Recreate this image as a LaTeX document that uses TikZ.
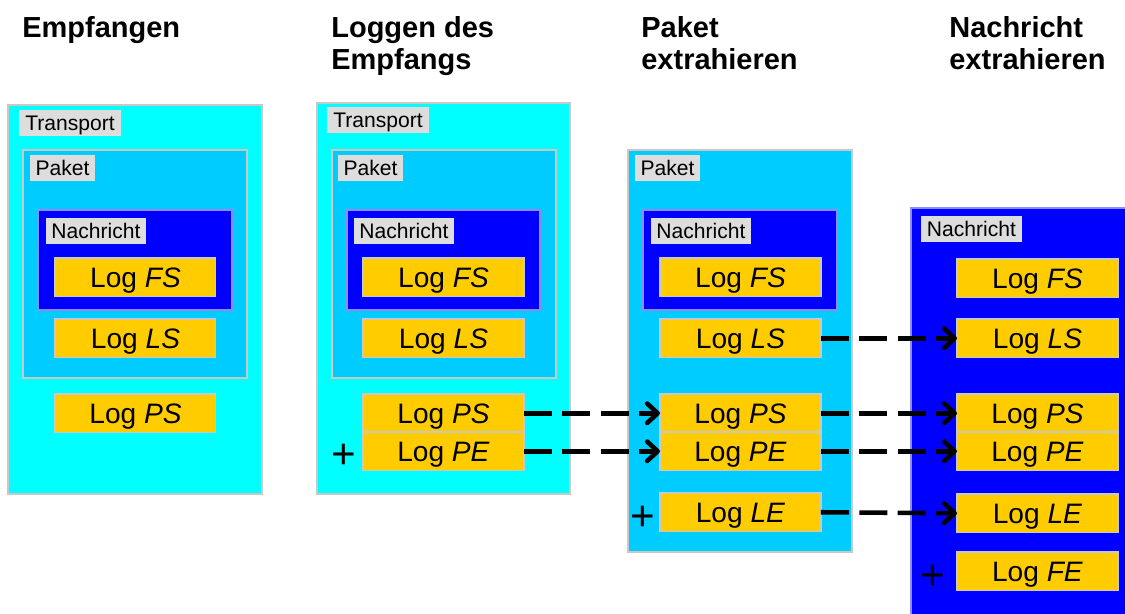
\documentclass[tikz,border=0pt]{standalone}
\usepackage{fontspec}
\setmainfont{Liberation Sans}
\usetikzlibrary{fit,arrows.meta}

\definecolor{transportfill}{HTML}{00FFFF}
\definecolor{paketfill}{HTML}{00CCFF}
\definecolor{nachrichtfill}{HTML}{0000FF}
\definecolor{logfill}{HTML}{FFCC00}
\definecolor{tagfill}{HTML}{DDDDDD}
\definecolor{edgegray}{HTML}{C8C8C8}
\definecolor{edgeblue}{HTML}{8C8CFF}

\tikzset{
  x=0.02cm, y=-0.02cm,
  box/.style={inner sep=0pt, outer sep=0pt, line width=0.6pt},
  transportbox/.style={box, fill=transportfill, draw=edgegray},
  paketbox/.style={box, fill=paketfill, draw=edgegray},
  nachrichtbox/.style={box, fill=nachrichtfill, draw=edgeblue},
  logbox/.style={box, fill=logfill, draw=edgegray, anchor=north west,
    minimum width=3.22cm, minimum height=0.77cm,
    text height=11.2pt, text depth=0pt,
    font=\fontsize{16}{18}\selectfont},
  tagbox/.style={box, fill=tagfill, anchor=north west, minimum height=0.52cm,
    text height=8.6pt, text depth=0pt,
    font=\fontsize{12}{14}\selectfont},
  title/.style={anchor=base west, inner sep=0pt,
    font=\fontsize{16.5}{17.6}\selectfont\bfseries},
  plus/.style={inner sep=0pt, font=\fontsize{24}{24}\selectfont},
  flow/.style={line width=2.6pt, dash pattern=on 16pt off 5.8pt,
    -{Straight Barb[length=6pt,width=11pt,line width=2.6pt,line cap=round,line join=round]}}
}

\begin{document}
\begin{tikzpicture}
\useasboundingbox (0,0) rectangle (1125,613);

% column titles, one node per line
\node[title] (t1) at (22,37) {Empfangen};
\node[title] (t2a) at (331,37) {Loggen des};
\node[title] (t2b) at (331,69) {Empfangs};
\node[title] (t3a) at (641,37) {Paket};
\node[title] (t3b) at (641,69) {extrahieren};
\node[title] (t4a) at (949,37) {Nachricht};
\node[title] (t4b) at (949,69) {extrahieren};

% --- Empfangen ---
\node[transportbox, fit={(8,105)(262,494)}] (a-tr) {};
\node[tagbox, minimum width=2.04cm] (a-trtag) at (19,110) {Transport};
\node[paketbox, fit={(23,150)(247,378)}] (a-pk) {};
\node[tagbox, minimum width=1.3cm] (a-pktag) at (30,155) {Paket};
\node[nachrichtbox, fit={(38,210)(232,310)}] (a-na) {};
\node[tagbox, minimum width=2.0cm] (a-natag) at (46,218) {Nachricht};
\node[logbox] (a-fs) at (55,258) {Log \textit{FS}};
\node[logbox] (a-ls) at (55,319) {Log \textit{LS}};
\node[logbox] (a-ps) at (55,394) {Log \textit{PS}};

% --- Loggen des Empfangs ---
\node[transportbox, fit={(317,103)(570,494)}] (b-tr) {};
\node[tagbox, minimum width=2.04cm] (b-trtag) at (327,107) {Transport};
\node[paketbox, fit={(332,150)(556,378)}] (b-pk) {};
\node[tagbox, minimum width=1.3cm] (b-pktag) at (338,155) {Paket};
\node[nachrichtbox, fit={(347,210)(540,310)}] (b-na) {};
\node[tagbox, minimum width=2.0cm] (b-natag) at (354,218) {Nachricht};
\node[logbox] (b-fs) at (363,258) {Log \textit{FS}};
\node[logbox] (b-ls) at (363,319) {Log \textit{LS}};
\node[logbox] (b-ps) at (363,394) {Log \textit{PS}};
\node[logbox] (b-pe) at (363,432) {Log \textit{PE}};
\node[plus] (b-plus) at (344,456) {+};

% --- Paket extrahieren ---
\node[paketbox, fit={(628,150)(852,552)}] (c-pk) {};
\node[tagbox, minimum width=1.3cm] (c-pktag) at (635,155) {Paket};
\node[nachrichtbox, fit={(643,210)(837,310)}] (c-na) {};
\node[tagbox, minimum width=2.0cm] (c-natag) at (651,218) {Nachricht};
\node[logbox] (c-fs) at (660,258) {Log \textit{FS}};
\node[logbox] (c-ls) at (660,319) {Log \textit{LS}};
\node[logbox] (c-ps) at (660,394) {Log \textit{PS}};
\node[logbox] (c-pe) at (660,432) {Log \textit{PE}};
\node[logbox] (c-le) at (660,493) {Log \textit{LE}};
\node[plus] (c-plus) at (643,518) {+};

% --- Nachricht extrahieren ---
\node[nachrichtbox, fit={(911,208)(1127,616)}] (d-na) {};
\node[tagbox, minimum width=2.02cm] (d-natag) at (921,216) {Nachricht};
\node[logbox] (d-fs) at (957,259) {Log \textit{FS}};
\node[logbox] (d-ls) at (957,319) {Log \textit{LS}};
\node[logbox] (d-ps) at (957,394) {Log \textit{PS}};
\node[logbox] (d-pe) at (957,432) {Log \textit{PE}};
\node[logbox] (d-le) at (957,494) {Log \textit{LE}};
\node[logbox] (d-fe) at (957,552) {Log \textit{FE}};
\node[plus] (d-plus) at (933,577) {+};

% hand-over of log entries between stages
\draw[flow] (b-ps.east) -- (c-ps.west);
\draw[flow] (b-pe.east) -- (c-pe.west);
\draw[flow] (c-ls.east) -- (d-ls.west);
\draw[flow] (c-ps.east) -- (d-ps.west);
\draw[flow] (c-pe.east) -- (d-pe.west);
\draw[flow] (c-le.east) -- (d-le.west);
\end{tikzpicture}
\end{document}
